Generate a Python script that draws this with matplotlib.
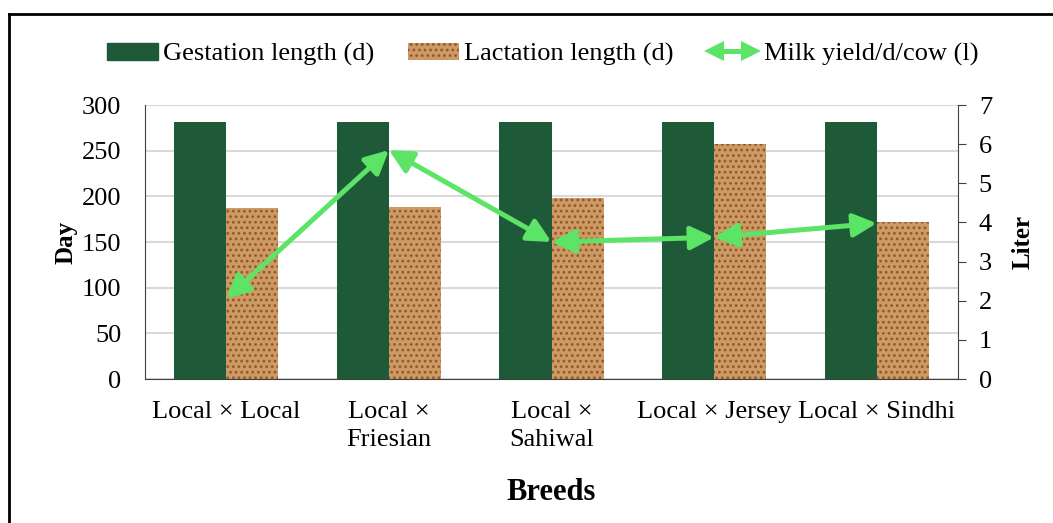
import matplotlib.pyplot as plt
import numpy as np
from matplotlib.patches import Rectangle
from matplotlib.lines import Line2D
from matplotlib.legend_handler import HandlerBase

plt.rcParams['font.family'] = ['Liberation Serif', 'DejaVu Serif']
plt.rcParams['hatch.linewidth'] = 1.2

# data
breeds = ['Local × Local', 'Local ×\nFriesian', 'Local ×\nSahiwal', 'Local × Jersey', 'Local × Sindhi']
gestation = [281, 281, 281, 281, 281]
lactation = [187, 188, 198, 257, 172]
milk_yield = [2.05, 5.85, 3.5, 3.62, 3.98]

green = '#1f5a38'
tan = '#cf9963'
arrow_col = '#5ce466'
arrow_style = '<|-|>,head_length=1.4,head_width=0.7'

fig = plt.figure(figsize=(10.53, 5.23), dpi=100)
ax = fig.add_axes([0.1377, 0.2753, 0.7721, 0.5239])
ax2 = ax.twinx()

x = np.arange(len(breeds))
w = 0.32
ax.bar(x - w / 2, gestation, w, color=green, zorder=2)
ax.bar(x + w / 2, lactation, w, color=tan, edgecolor='#8a5a30', hatch='...', linewidth=0, zorder=2)

ax.set_xlim(-0.5, len(breeds) - 0.5)
ax.set_ylim(0, 300)
ax.set_yticks(range(0, 301, 50))
ax.yaxis.grid(True, color='#d9d9d9', linewidth=1.5, zorder=0)
ax.set_axisbelow(True)
ax.tick_params(axis='y', length=0, labelsize=19, pad=17)
ax.tick_params(axis='x', length=0, labelsize=19, pad=16)
ax.set_xticks(x)
ax.set_xticklabels(breeds, linespacing=1.35)
ax.spines['top'].set_visible(False)
ax.spines['right'].set_visible(False)
ax.spines['left'].set_color('#404040')
ax.spines['bottom'].set_color('#404040')
ax.set_ylabel('Day', fontsize=18, fontweight='bold', labelpad=3)
ax.set_xlabel('Breeds', fontsize=22, fontweight='bold', labelpad=19)

ax2.set_ylim(0, 7)
ax2.set_yticks(range(0, 8))
ax2.tick_params(axis='y', labelsize=19, length=6, color='#404040', pad=9)
for s in ['top', 'left', 'bottom']:
    ax2.spines[s].set_visible(False)
ax2.spines['right'].set_color('#404040')
ax2.set_ylabel('Liter', fontsize=18, fontweight='bold', labelpad=14)

# milk yield line: arrow heads on both ends of every segment
for i in range(len(x) - 1):
    ax2.annotate('', xy=(x[i + 1], milk_yield[i + 1]), xytext=(x[i], milk_yield[i]),
                 arrowprops=dict(arrowstyle=arrow_style, color=arrow_col, lw=3.6,
                                 shrinkA=0, shrinkB=0),
                 zorder=5)


class DoubleArrowHandler(HandlerBase):
    # shaft plus a triangle head at each end
    def create_artists(self, legend, orig_handle, xd, yd, width, height, fontsize, trans):
        y0 = height / 2 - yd
        x0, x1 = -xd + 5, -xd + width - 5
        shaft = Line2D([x0, x1], [y0, y0], color=arrow_col, lw=3.6, transform=trans)
        left = Line2D([x0], [y0], marker='<', markersize=15, color=arrow_col,
                      markeredgewidth=0, transform=trans)
        right = Line2D([x1], [y0], marker='>', markersize=15, color=arrow_col,
                       markeredgewidth=0, transform=trans)
        return [shaft, left, right]


h1 = Rectangle((0, 0), 1, 1, color=green)
h2 = Rectangle((0, 0), 1, 1, facecolor=tan, edgecolor='#8a5a30', hatch='...', linewidth=0)
h3 = Line2D([], [], color=arrow_col)
fig.legend([h1, h2, h3], ['Gestation length (d)', 'Lactation length (d)', 'Milk yield/d/cow (l)'],
           loc='center', bbox_to_anchor=(0.515, 0.896), ncol=3, frameon=False,
           fontsize=19, handlelength=1.95, handleheight=0.6, handletextpad=0.2,
           columnspacing=1.25, handler_map={h3: DoubleArrowHandler()})

# outer frame: only top and left edges fall inside the picture
fig.add_artist(Line2D([0.009, 1.0], [0.973, 0.973], color='black', lw=2, transform=fig.transFigure))
fig.add_artist(Line2D([0.009, 0.009], [0.0, 0.973], color='black', lw=2, transform=fig.transFigure))

fig.savefig('out.png', dpi=100)
